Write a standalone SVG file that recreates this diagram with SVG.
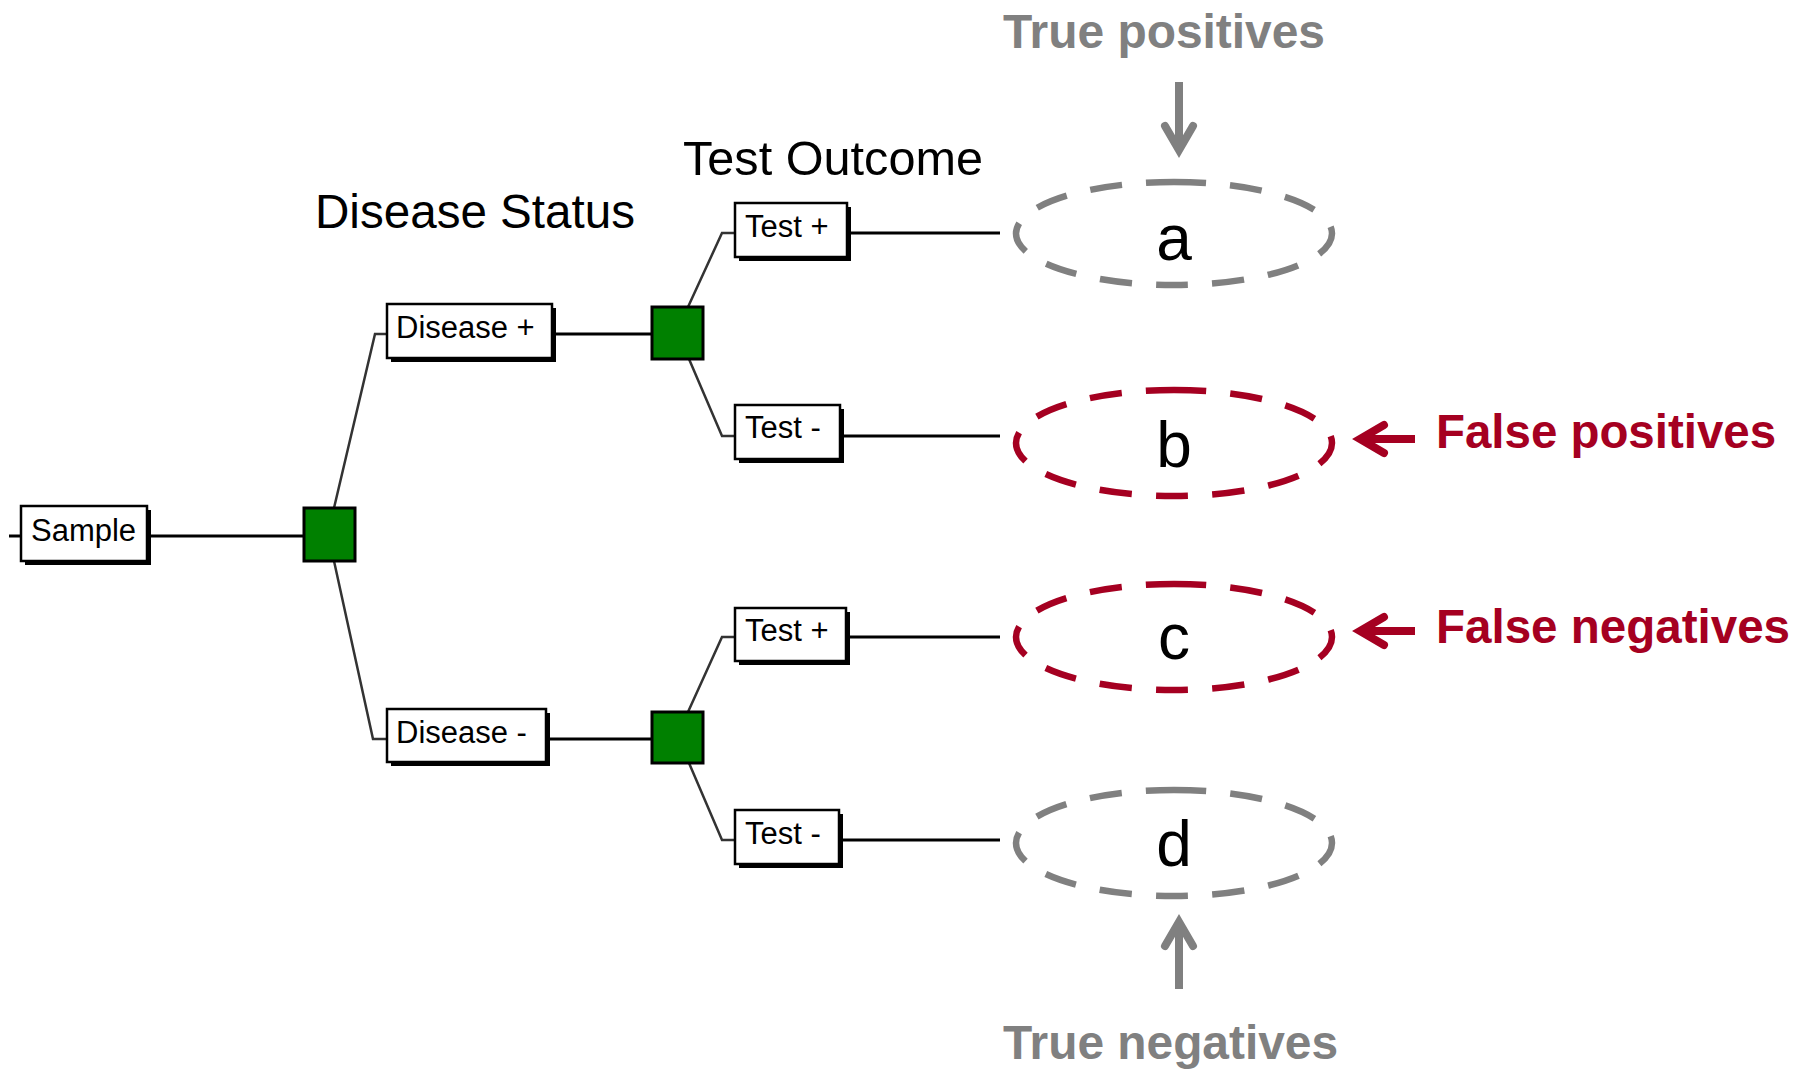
<svg xmlns="http://www.w3.org/2000/svg" width="1815" height="1069" viewBox="0 0 1815 1069">
<style>
.box{fill:#fff;stroke:#000;stroke-width:2.5}
.shadow{fill:#000}
.lbl{font-family:"Liberation Sans",Arial,sans-serif;font-size:31px;fill:#000}
.title{font-family:"Liberation Sans",Arial,sans-serif;font-size:48px;fill:#000}
.chance{fill:#008000;stroke:#000;stroke-width:3}
.hline{stroke:#000;stroke-width:3;fill:none}
.dline{stroke:#333;stroke-width:2.5;fill:none}
.ell{fill:none;stroke-width:6.5;stroke-dasharray:32 24}
.gray{stroke:#808080}
.red{stroke:#A50021}
.letter{font-family:"Liberation Sans",Arial,sans-serif;font-size:64px;fill:#000;text-anchor:middle}
.note{font-family:"Liberation Sans",Arial,sans-serif;font-size:48px;font-weight:bold}
.arr{fill:none;stroke-width:8}
.head{fill:none;stroke-width:8;stroke-linecap:round;stroke-linejoin:miter}
</style>

<g id="connectors">
  <line class="hline" x1="9" y1="536" x2="21" y2="536"/>
  <line class="hline" x1="147" y1="536" x2="304" y2="536"/>
  <polyline class="dline" points="334,508 375,334 387,334"/>
  <polyline class="dline" points="334,561 373,739 387,739"/>
  <line class="hline" x1="552" y1="334" x2="652" y2="334"/>
  <line class="hline" x1="546" y1="739" x2="652" y2="739"/>
  <polyline class="dline" points="688,307 722,233 735,233"/>
  <polyline class="dline" points="689,359 722,436 735,436"/>
  <polyline class="dline" points="688,712 722,637 735,637"/>
  <polyline class="dline" points="689,763 722,840 735,840"/>
  <line class="hline" x1="847" y1="233" x2="1000" y2="233"/>
  <line class="hline" x1="840" y1="436" x2="1000" y2="436"/>
  <line class="hline" x1="846" y1="637" x2="1000" y2="637"/>
  <line class="hline" x1="839" y1="840" x2="1000" y2="840"/>
</g>

<g id="title-disease-status"><text class="title" x="315" y="228" textLength="320" lengthAdjust="spacingAndGlyphs">Disease Status</text></g>
<g id="title-test-outcome"><text class="title" x="683" y="175" textLength="300" lengthAdjust="spacingAndGlyphs">Test Outcome</text></g>

<g id="node-sample">
  <rect class="shadow" x="25" y="510" width="126" height="55"/>
  <rect class="box" x="21" y="506" width="126" height="55"/>
  <text class="lbl" x="31" y="541">Sample</text>
</g>
<g id="chance-1"><rect class="chance" x="304" y="508" width="51" height="53"/></g>

<g id="node-disease-pos">
  <rect class="shadow" x="391" y="308" width="165" height="54"/>
  <rect class="box" x="387" y="304" width="165" height="54"/>
  <text class="lbl" x="396" y="338">Disease +</text>
</g>
<g id="node-disease-neg">
  <rect class="shadow" x="391" y="713" width="159" height="53"/>
  <rect class="box" x="387" y="709" width="159" height="53"/>
  <text class="lbl" x="396" y="743">Disease -</text>
</g>
<g id="chance-2"><rect class="chance" x="652" y="307" width="51" height="52"/></g>
<g id="chance-3"><rect class="chance" x="652" y="712" width="51" height="51"/></g>

<g id="node-test-pos-1">
  <rect class="shadow" x="739" y="207" width="112" height="54"/>
  <rect class="box" x="735" y="203" width="112" height="54"/>
  <text class="lbl" x="745" y="237">Test +</text>
</g>
<g id="node-test-neg-1">
  <rect class="shadow" x="739" y="409" width="105" height="54"/>
  <rect class="box" x="735" y="405" width="105" height="54"/>
  <text class="lbl" x="745" y="438">Test -</text>
</g>
<g id="node-test-pos-2">
  <rect class="shadow" x="739" y="612" width="111" height="53"/>
  <rect class="box" x="735" y="608" width="111" height="53"/>
  <text class="lbl" x="745" y="641">Test +</text>
</g>
<g id="node-test-neg-2">
  <rect class="shadow" x="739" y="814" width="104" height="54"/>
  <rect class="box" x="735" y="810" width="104" height="54"/>
  <text class="lbl" x="745" y="844">Test -</text>
</g>

<g id="cell-a">
  <path class="ell gray" pathLength="700" d="M1174,182 A158,51.5 0 0 1 1174,285 A158,51.5 0 0 1 1174,182"/>
  <text class="letter" x="1174" y="260">a</text>
</g>
<g id="cell-b">
  <path class="ell red" pathLength="700" d="M1174,390 A158,53 0 0 1 1174,496 A158,53 0 0 1 1174,390"/>
  <text class="letter" x="1174" y="467">b</text>
</g>
<g id="cell-c">
  <path class="ell red" pathLength="700" d="M1174,584 A158,53 0 0 1 1174,690 A158,53 0 0 1 1174,584"/>
  <text class="letter" x="1174" y="659">c</text>
</g>
<g id="cell-d">
  <path class="ell gray" pathLength="700" d="M1174,790 A158,53 0 0 1 1174,896 A158,53 0 0 1 1174,790"/>
  <text class="letter" x="1174" y="866">d</text>
</g>

<g id="label-true-positives">
  <text class="note" x="1003" y="48" fill="#808080" textLength="322" lengthAdjust="spacingAndGlyphs">True positives</text>
  <line class="arr gray" x1="1179" y1="82" x2="1179" y2="148"/>
  <path class="head gray" d="M1165,126 L1179,150 L1193,126"/>
</g>
<g id="label-true-negatives">
  <text class="note" x="1003" y="1059" fill="#808080" textLength="335" lengthAdjust="spacingAndGlyphs">True negatives</text>
  <line class="arr gray" x1="1179" y1="989" x2="1179" y2="924"/>
  <path class="head gray" d="M1165,946 L1179,922 L1193,946"/>
</g>
<g id="label-false-positives">
  <text class="note" x="1436" y="448" fill="#A50021" textLength="340" lengthAdjust="spacingAndGlyphs">False positives</text>
  <line class="arr red" x1="1415" y1="439" x2="1362" y2="439"/>
  <path class="head red" d="M1384,425 L1360,439 L1384,453"/>
</g>
<g id="label-false-negatives">
  <text class="note" x="1436" y="643" fill="#A50021" textLength="354" lengthAdjust="spacingAndGlyphs">False negatives</text>
  <line class="arr red" x1="1415" y1="631" x2="1362" y2="631"/>
  <path class="head red" d="M1384,617 L1360,631 L1384,645"/>
</g>
</svg>
